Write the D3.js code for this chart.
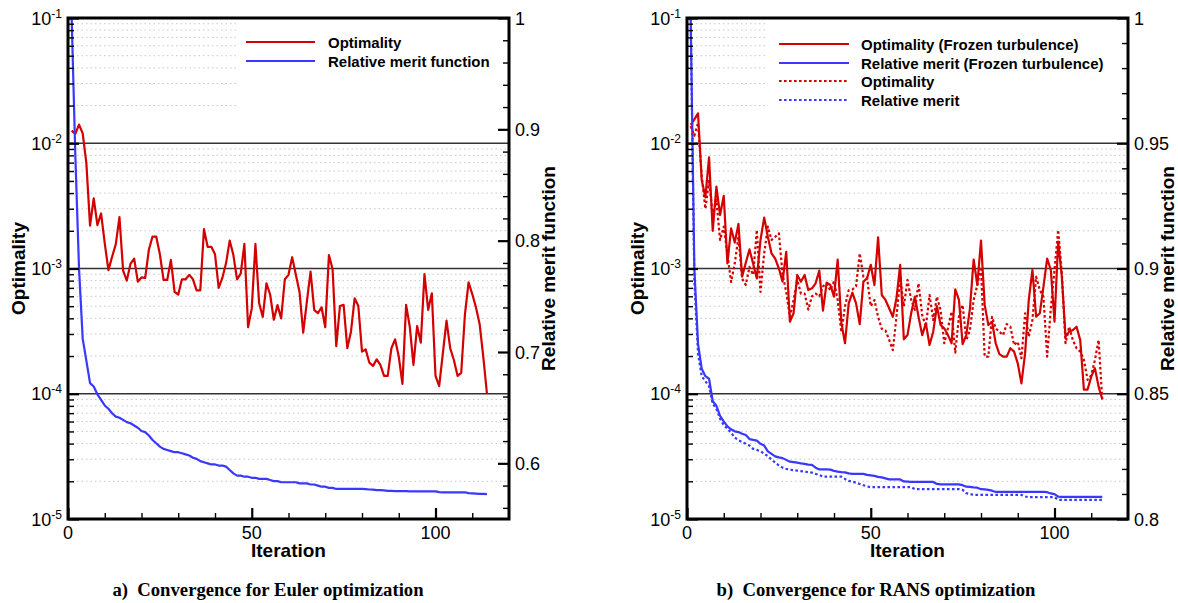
<!DOCTYPE html>
<html><head><meta charset="utf-8">
<script src="https://cdn.jsdelivr.net/npm/d3@7"></script>
<style>body{margin:0;background:#fff}svg{display:block}</style>
</head><body>
<script>
// ---------------- DATA ----------------
const eulerOptimality = [0.0126,0.0119,0.0141,0.0120,0.0069,0.0022,0.00363,0.00222,0.00275,0.00159,
0.00097,0.00124,0.00156,0.00257,0.00096,0.00080,0.00109,0.00120,0.000785,0.00085,
0.00084,0.00141,0.00180,0.00180,0.00130,0.00081,0.00081,0.00117,0.00065,0.00062,
0.00082,0.00082,0.00089,0.00082,0.00067,0.00067,0.00206,0.00149,0.00149,0.00130,
0.00070,0.00084,0.00110,0.00167,0.00128,0.00082,0.00091,0.00157,0.00034,0.00048,
0.00157,0.00053,0.00041,0.00076,0.00062,0.00039,0.00051,0.00040,0.00082,0.00089,
0.00123,0.00089,0.00065,0.000308,0.000543,0.000944,0.000467,0.000439,0.00049,0.00034,
0.00128,0.000985,0.00024,0.000502,0.000512,0.000231,0.000313,0.000578,0.000502,0.000217,
0.000226,0.000177,0.000167,0.000188,0.00017,0.000139,0.000139,0.000231,0.000272,0.000198,
0.00012,0.000512,0.000343,0.00017,0.000347,0.000256,0.000904,0.000467,0.000634,0.000139,
0.000115,0.00021,0.000383,0.000231,0.000186,0.000139,0.000147,0.000426,0.000776,0.000625,
0.00049,0.000361,0.000198,0.0001];
const eulerMerit = [1.0,0.876,0.775,0.712,0.692,0.672,0.669,0.662,0.657,0.652,
0.649,0.645,0.642,0.641,0.639,0.637,0.636,0.634,0.632,0.629,
0.628,0.625,0.621,0.618,0.615,0.613,0.612,0.611,0.610,0.610,
0.609,0.608,0.607,0.605,0.604,0.602,0.601,0.600,0.599,0.599,
0.598,0.598,0.597,0.594,0.591,0.589,0.589,0.588,0.588,0.587,
0.587,0.586,0.586,0.586,0.585,0.584,0.584,0.583,0.583,0.583,
0.583,0.583,0.582,0.582,0.582,0.581,0.581,0.580,0.579,0.579,
0.578,0.578,0.577,0.577,0.577,0.577,0.577,0.577,0.577,0.577,
0.5768,0.5765,0.5763,0.576,0.576,0.5757,0.5753,0.5752,0.575,0.575,
0.575,0.575,0.5748,0.5748,0.5748,0.5748,0.5748,0.5748,0.5748,0.5748,
0.5741,0.574,0.574,0.574,0.574,0.574,0.574,0.574,0.5732,0.573,
0.5728,0.5726,0.5725,0.5723];

const ransOptFrozen = [0.0140,0.0155,0.0173,0.0051,0.0037,0.0077,0.0020,0.0045,0.00267,0.00381,
0.0011,0.00209,0.00161,0.00227,0.00086,0.00111,0.00142,0.00109,0.000834,0.00169,
0.00255,0.00179,0.00132,0.0012,0.0010,0.000785,0.00136,0.000376,0.000439,0.000888,
0.000785,0.000888,0.000673,0.000695,0.000762,0.000962,0.000461,0.00077,0.000738,0.000596,
0.00118,0.00037,0.000253,0.000527,0.000641,0.000527,0.00036,0.000785,0.000834,0.00107,
0.000738,0.00177,0.000614,0.000561,0.000481,0.000412,0.000578,0.00107,0.000272,0.000294,
0.000439,0.000596,0.000412,0.000294,0.000365,0.000245,0.000313,0.000502,0.000354,0.000333,
0.000294,0.000253,0.000683,0.000561,0.000249,0.000294,0.000481,0.00118,0.000738,0.00167,
0.000512,0.000354,0.000376,0.000253,0.000207,0.000198,0.000198,0.000231,0.000217,0.000175,
0.000121,0.00021,0.000561,0.000973,0.000412,0.000439,0.000716,0.0012,0.000973,0.000376,
0.00164,0.00086,0.000286,0.000313,0.000323,0.000343,0.000268,0.000108,0.000108,0.000137,
0.00016,0.000114,0.0000904];
const ransOpt = [0.0137,0.0115,0.0145,0.0055,0.0030,0.0050,0.00267,0.00352,0.00169,0.00216,
0.0013,0.00078,0.0011,0.00179,0.00083,0.00074,0.00103,0.00089,0.00203,0.00065,
0.00132,0.00216,0.00169,0.00179,0.00191,0.0009,0.00065,0.00041,0.00056,0.00081,
0.00063,0.00063,0.00047,0.0006,0.00063,0.0006,0.00072,0.00076,0.00067,0.00079,
0.00056,0.00031,0.0005,0.00067,0.00068,0.00072,0.00132,0.00086,0.00084,0.0005,
0.00056,0.00041,0.00033,0.00032,0.00027,0.000223,0.00041,0.00086,0.0005,0.00081,
0.000561,0.000467,0.000762,0.000426,0.000343,0.000614,0.000388,0.000596,0.000467,0.000253,
0.000333,0.000452,0.000213,0.000412,0.000512,0.000268,0.000323,0.000561,0.000738,0.00103,
0.000198,0.000198,0.000412,0.000333,0.000313,0.000294,0.00036,0.000343,0.000245,0.00026,
0.000192,0.000439,0.000286,0.000388,0.00086,0.000673,0.000596,0.000198,0.000481,0.000973,
0.00203,0.000916,0.000253,0.000343,0.000268,0.000231,0.000217,0.000186,0.000129,0.000141,
0.000186,0.000268,0.0000891];
const ransMeritFrozen = [1.0,0.90,0.870,0.860,0.857,0.856,0.847,0.8452,0.8412,0.839,
0.837,0.8358,0.835,0.8347,0.834,0.8335,0.8319,0.8316,0.8313,0.830,
0.8293,0.827,0.826,0.825,0.8246,0.8243,0.8236,0.8229,0.8227,0.8225,
0.8222,0.822,0.8217,0.8216,0.8205,0.8198,0.8198,0.8198,0.8197,0.8192,
0.8189,0.8187,0.8186,0.8182,0.818,0.818,0.818,0.818,0.8176,0.8174,
0.8172,0.8168,0.8166,0.8162,0.8158,0.8158,0.8158,0.8158,0.815,0.8149,
0.8148,0.8148,0.8148,0.8148,0.8148,0.8148,0.8148,0.814,0.8138,0.8138,
0.8138,0.8138,0.8138,0.8138,0.8135,0.8129,0.8128,0.8126,0.8125,0.8119,
0.8118,0.8116,0.8113,0.8108,0.8108,0.8108,0.8108,0.8108,0.8108,0.8108,
0.8108,0.8108,0.8108,0.8108,0.8108,0.8108,0.8108,0.8107,0.8102,0.8099,
0.8089,0.8088,0.8088,0.8088,0.8088,0.8088,0.8088,0.8088,0.8088,0.8088,
0.8088,0.8088,0.8088];
const ransMerit = [1.0,0.895,0.866,0.857,0.855,0.853,0.846,0.844,0.840,0.8375,
0.836,0.8345,0.8325,0.8315,0.8307,0.830,0.8293,0.828,0.8276,0.827,
0.8262,0.825,0.8238,0.8225,0.8214,0.8205,0.820,0.8197,0.8195,0.8193,
0.8191,0.8189,0.8187,0.8185,0.818,0.8176,0.8169,0.8169,0.8169,0.8169,
0.8169,0.8169,0.816,0.8152,0.8149,0.8145,0.814,0.8135,0.813,0.8127,
0.8127,0.8127,0.8127,0.8127,0.8127,0.8127,0.8127,0.8127,0.8127,0.8127,
0.8127,0.8119,0.8119,0.8119,0.8119,0.8119,0.8119,0.8119,0.8119,0.8119,
0.8119,0.8119,0.8119,0.8119,0.8116,0.8103,0.810,0.8096,0.8096,0.8096,
0.8096,0.8096,0.8096,0.8096,0.8096,0.8096,0.8096,0.8096,0.8096,0.8096,
0.8096,0.809,0.8087,0.8087,0.8087,0.8087,0.8087,0.8087,0.8087,0.8087,
0.8077,0.8076,0.8076,0.8076,0.8076,0.8076,0.8076,0.8076,0.8076,0.8076,
0.8076,0.8076,0.8076];

const xMajorTicks = [0, 50, 100];
const xMinorTicks = [10, 20, 30, 40, 60, 70, 80, 90, 110];
const logMajorTicks = [1e-5, 1e-4, 1e-3, 1e-2, 1e-1];
const logTickExponents = ["-5", "-4", "-3", "-2", "-1"];
const eulerRightTicks = [0.6, 0.7, 0.8, 0.9, 1.0];
const eulerRightLabels = ["0.6", "0.7", "0.8", "0.9", "1"];
const eulerRightMinor = [0.56,0.58,0.62,0.64,0.66,0.68,0.72,0.74,0.76,0.78,0.82,0.84,0.86,0.88,0.92,0.94,0.96,0.98];
const ransRightTicks = [0.8, 0.85, 0.9, 0.95, 1.0];
const ransRightLabels = ["0.8", "0.85", "0.9", "0.95", "1"];
const ransRightMinor = [0.81,0.82,0.83,0.84,0.86,0.87,0.88,0.89,0.91,0.92,0.93,0.94,0.96,0.97,0.98,0.99];
const eulerLegend = ["Optimality", "Relative merit function"];
const ransLegend = ["Optimality (Frozen turbulence)", "Relative merit (Frozen turbulence)", "Optimality", "Relative merit"];
const captions = ["a)  Convergence for Euler optimization", "b)  Convergence for RANS optimization"];

// ---------------- DRAW ----------------
const RED = "#d40000", BLUE = "#3838ff";
const SANS = "'Liberation Sans', Arial, Helvetica, sans-serif";
const svg = d3.select("body").append("svg").attr("width", 1178).attr("height", 603);

const minorLog = [];
[1e-5, 1e-4, 1e-3, 1e-2].forEach(d => { for (let m = 2; m <= 9; m++) minorLog.push(m * d); });

function panel(cfg, idx) {
  const top = 18, bottom = 519;
  const x = d3.scaleLinear().domain([0, 120]).range([cfg.x0, cfg.x1]);
  const yL = d3.scaleLog().domain([1e-5, 1e-1]).range([bottom, top]);
  const yR = d3.scaleLinear().domain(cfg.rDomain).range([bottom, top]);
  const g = svg.append("g");

  // minor dotted grid
  g.append("g").selectAll("line").data(minorLog).join("line")
    .attr("x1", cfg.x0).attr("x2", cfg.x1).attr("y1", d => yL(d)).attr("y2", d => yL(d))
    .attr("stroke", "#c8c8c8").attr("stroke-width", 1).attr("stroke-dasharray", "1.5,3");
  // legend background
  g.append("rect").attr("x", cfg.legBoxX).attr("y", top).attr("width", cfg.x1 - cfg.legBoxX).attr("height", cfg.legBoxH).attr("fill", "#fff");
  // major grid
  g.append("g").selectAll("line").data([1e-4, 1e-3, 1e-2]).join("line")
    .attr("x1", cfg.x0).attr("x2", cfg.x1).attr("y1", d => yL(d)).attr("y2", d => yL(d))
    .attr("stroke", "#333").attr("stroke-width", 1.3);

  // clip
  const cid = "clip" + idx;
  svg.append("clipPath").attr("id", cid).append("rect").attr("x", cfg.x0).attr("y", top).attr("width", cfg.x1 - cfg.x0).attr("height", bottom - top);
  const lines = g.append("g").attr("clip-path", `url(#${cid})`);
  cfg.series.forEach(s => {
    const gen = d3.line().x((d, i) => x(i + 1)).y(d => s.axis === "L" ? yL(d) : yR(d));
    lines.append("path").datum(s.data).attr("d", gen).attr("fill", "none")
      .attr("stroke", s.color).attr("stroke-width", 2.2).attr("stroke-linejoin", "round")
      .attr("stroke-dasharray", s.dash ? "2.6,2.4" : null);
  });

  // axes (ticks inward)
  const ax = g.append("g");
  const bx = ax.append("g").attr("transform", `translate(0,${bottom})`).call(d3.axisBottom(x).tickValues(xMajorTicks).tickSize(-11).tickFormat(""));
  const bxm = ax.append("g").attr("transform", `translate(0,${bottom})`).call(d3.axisBottom(x).tickValues(xMinorTicks).tickSize(-6).tickFormat(""));
  const ly = ax.append("g").attr("transform", `translate(${cfg.x0},0)`).call(d3.axisLeft(yL).tickValues(logMajorTicks).tickSize(-11).tickFormat(""));
  const lym = ax.append("g").attr("transform", `translate(${cfg.x0},0)`).call(d3.axisLeft(yL).tickValues(minorLog).tickSize(-6).tickFormat(""));
  const ry = ax.append("g").attr("transform", `translate(${cfg.x1},0)`).call(d3.axisRight(yR).tickValues(cfg.rTicks).tickSize(-11).tickFormat(""));
  const rym = ax.append("g").attr("transform", `translate(${cfg.x1},0)`).call(d3.axisRight(yR).tickValues(cfg.rMinor).tickSize(-6).tickFormat(""));
  [bx, ly, ry].forEach(a => { a.select(".domain").remove(); a.selectAll("line").attr("stroke", "#000").attr("stroke-width", 2.2); });
  [bxm, lym, rym].forEach(a => { a.select(".domain").remove(); a.selectAll("line").attr("stroke", "#000").attr("stroke-width", 1.4); });
  // box
  g.append("rect").attr("x", cfg.x0).attr("y", top).attr("width", cfg.x1 - cfg.x0).attr("height", bottom - top)
    .attr("fill", "none").attr("stroke", "#000").attr("stroke-width", 3);

  // tick labels
  const tl = g.append("g").attr("font-family", SANS).attr("fill", "#000");
  tl.selectAll("text.x").data(xMajorTicks).join("text").attr("class", "x")
    .attr("x", d => x(d)).attr("y", 538.5).attr("text-anchor", "middle").attr("font-size", 18).text(d => d);
  logMajorTicks.forEach((v, i) => {
    const t = tl.append("text").attr("x", cfg.x0 - 6).attr("y", yL(v) + 6.5).attr("text-anchor", "end").attr("font-size", 18);
    t.append("tspan").text("10");
    t.append("tspan").attr("font-size", 12).attr("dy", -7).text(logTickExponents[i]);
  });
  cfg.rTicks.forEach((v, i) => {
    tl.append("text").attr("x", cfg.x1 + 6).attr("y", yR(v) + 6.5).attr("font-size", 18).text(cfg.rLabels[i]);
  });

  // axis titles
  const tt = g.append("g").attr("font-family", SANS).attr("font-weight", "bold").attr("font-size", 19);
  tt.append("text").attr("x", (cfg.x0 + cfg.x1) / 2).attr("y", 557).attr("text-anchor", "middle").text("Iteration");
  tt.append("text").attr("transform", `translate(${cfg.x0 - 43},${(top + bottom) / 2}) rotate(-90)`).attr("text-anchor", "middle").text("Optimality");
  tt.append("text").attr("transform", `translate(${cfg.rTitleX},${(top + bottom) / 2}) rotate(-90)`).attr("text-anchor", "middle").text("Relative merit function");

  // legend
  const lg = g.append("g").attr("font-family", SANS).attr("font-weight", "bold").attr("font-size", 15);
  cfg.legend.forEach((name, i) => {
    const yy = cfg.legY[i];
    const s = cfg.series[cfg.legOrder[i]];
    lg.append("line").attr("x1", cfg.legX1).attr("x2", cfg.legX2).attr("y1", yy).attr("y2", yy)
      .attr("stroke", s.color).attr("stroke-width", 2.2).attr("stroke-dasharray", s.dash ? "2.6,2.4" : null);
    lg.append("text").attr("x", cfg.legT).attr("y", yy + 5.5).text(name);
  });

  // caption
  svg.append("text").attr("x", cfg.capX).attr("y", 596).attr("text-anchor", "middle")
    .attr("font-family", "'Liberation Serif', 'Times New Roman', serif").attr("font-weight", "bold").attr("font-size", 18.7)
    .attr("xml:space", "preserve").style("white-space", "pre").text(captions[idx]);
}

panel({
  x0: 68, x1: 509, rDomain: [0.55, 1], rTicks: eulerRightTicks, rLabels: eulerRightLabels, rMinor: eulerRightMinor,
  rTitleX: 555, legBoxX: 237, legBoxH: 105,
  series: [
    { data: eulerOptimality, axis: "L", color: RED },
    { data: eulerMerit, axis: "R", color: BLUE }
  ],
  legend: eulerLegend, legOrder: [0, 1], legY: [42, 61], legX1: 246, legX2: 315, legT: 328, capX: 268
}, 0);

panel({
  x0: 687, x1: 1128, rDomain: [0.8, 1], rTicks: ransRightTicks, rLabels: ransRightLabels, rMinor: ransRightMinor,
  rTitleX: 1174, legBoxX: 767, legBoxH: 105,
  series: [
    { data: ransOptFrozen, axis: "L", color: RED },
    { data: ransMeritFrozen, axis: "R", color: BLUE },
    { data: ransOpt, axis: "L", color: RED, dash: true },
    { data: ransMerit, axis: "R", color: BLUE, dash: true }
  ],
  legend: ransLegend, legOrder: [0, 1, 2, 3], legY: [44, 63, 81, 100], legX1: 779, legX2: 849, legT: 861, capX: 876
}, 1);
</script>
</body></html>
